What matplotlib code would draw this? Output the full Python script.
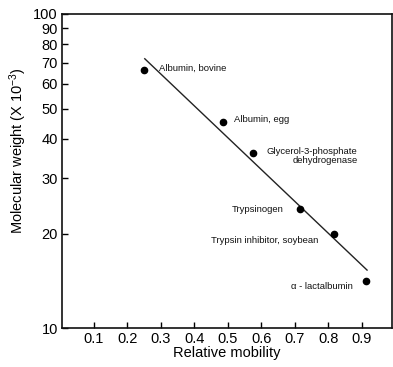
import matplotlib
matplotlib.use("Agg")
import matplotlib.pyplot as plt
from matplotlib.ticker import FixedLocator, NullLocator, NullFormatter

plt.rcParams['font.family'] = ['Liberation Sans', 'DejaVu Sans']
plt.rcParams['mathtext.fontset'] = 'custom'
plt.rcParams['mathtext.rm'] = 'Liberation Sans'
plt.rcParams['mathtext.it'] = 'Liberation Sans'

# standard proteins
proteins = ["Albumin, bovine", "Albumin, egg", "Glycerol-3-phosphate\ndehydrogenase",
            "Trypsinogen", "Trypsin inhibitor, soybean", "\u03b1 - lactalbumin"]
mobility = [0.249, 0.486, 0.576, 0.717, 0.816, 0.914]
mol_weight = [66.4, 45.2, 36.0, 23.9, 20.0, 14.15]

# fitted line end points
fit_x = [0.252, 0.916]
fit_y = [72.0, 15.3]

x_ticks = [0.1, 0.2, 0.3, 0.4, 0.5, 0.6, 0.7, 0.8, 0.9]
y_ticks = [10, 20, 30, 40, 50, 60, 70, 80, 90, 100]

fig = plt.figure(figsize=(3.93, 3.67), dpi=100)
ax = fig.add_axes([0.158, 0.106, 0.839, 0.856])

ax.plot(fit_x, fit_y, color='#222222', lw=1.0)
ax.plot(mobility, mol_weight, 'o', color='black', ms=4.5)

# label placement (offsets in points)
label_pos = [
    (11, 1, 'left'),
    (8, 2, 'left'),
    (75, -2, 'right'),
    (-12, 0, 'right'),
    (-11, -5, 'right'),
    (-10, -4, 'right'),
]
for name, x, y, (dx, dy, ha) in zip(proteins, mobility, mol_weight, label_pos):
    ax.annotate(name, (x, y), xytext=(dx, dy), textcoords='offset points',
                ha=ha, va='center', fontsize=6.8, color='#111111', linespacing=0.9,
                multialignment='right')

ax.set_yscale('log')
ax.set_xlim(0.005, 0.99)
ax.set_ylim(10, 100)
ax.yaxis.set_major_locator(FixedLocator(y_ticks))
ax.yaxis.set_minor_locator(NullLocator())
ax.yaxis.set_minor_formatter(NullFormatter())
ax.set_yticklabels([str(v) for v in y_ticks])
ax.set_xticks(x_ticks)
ax.set_xticklabels([str(v) for v in x_ticks])

ax.tick_params(direction='in', length=4, width=1, labelsize=10.5, pad=3)
for s in ax.spines.values():
    s.set_linewidth(1.2)
    s.set_color('#111111')

ax.set_xlabel('Relative mobility', fontsize=10.5, labelpad=0)
ax.set_ylabel('Molecular weight (X 10$^{-3}$)', fontsize=10.5, labelpad=2)
ax.yaxis.set_label_coords(-0.10, 0.565)

fig.savefig('out.png', dpi=100)
